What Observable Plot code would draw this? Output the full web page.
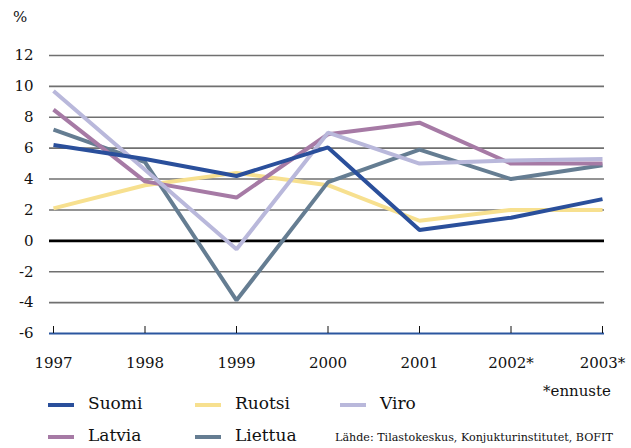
<!DOCTYPE html>
<html>
<head>
<meta charset="utf-8">
<script src="https://cdn.jsdelivr.net/npm/d3@7"></script>
<script src="https://cdn.jsdelivr.net/npm/@observablehq/plot@0.6"></script>
<style>
  html, body { margin: 0; padding: 0; background: #fff; }
  #wrap { position: relative; width: 631px; height: 448px; font-family: "DejaVu Serif", serif; color: #111; }
  #wrap svg { position: absolute; left: 0; top: 0; }
  .abs { position: absolute; white-space: nowrap; line-height: 1.15; }
  .sw { position: absolute; width: 26px; height: 4px; }
</style>
</head>
<body>
<div id="wrap"></div>
<script>
const years = [1997, 1998, 1999, 2000, 2001, 2002, 2003];
const yearLabels = ["1997", "1998", "1999", "2000", "2001", "2002*", "2003*"];
const yTicks = [-6, -4, -2, 0, 2, 4, 6, 8, 10, 12];
const seriesNames = ["Suomi", "Ruotsi", "Viro", "Latvia", "Liettua"];
const seriesColors = ["#2a4f9b", "#f7e08f", "#b9b8db", "#a67aa5", "#657d92"];
const suomi   = [6.2, 5.3, 4.2, 6.05, 0.7, 1.5, 2.7];
const ruotsi  = [2.1, 3.6, 4.4, 3.6, 1.3, 2.0, 2.0];
const viro    = [9.7, 4.6, -0.55, 7.0, 5.0, 5.2, 5.3];
const latvia  = [8.5, 3.85, 2.8, 6.9, 7.65, 5.0, 5.0];
const liettua = [7.2, 5.1, -3.85, 3.8, 5.9, 4.0, 4.9];
const unitLabel = "%";
const footnote = "*ennuste";
const source = "Lähde: Tilastokeskus, Konjukturinstitutet, BOFIT";

const valuesByName = {Suomi: suomi, Ruotsi: ruotsi, Viro: viro, Latvia: latvia, Liettua: liettua};
const color = Object.fromEntries(seriesNames.map((n, i) => [n, seriesColors[i]]));
const drawOrder = ["Ruotsi", "Liettua", "Latvia", "Viro", "Suomi"];
const rows = drawOrder.flatMap(name => years.map((yr, i) => ({name, year: yr, value: valuesByName[name][i]})));

const chart = Plot.plot({
  width: 631,
  height: 448,
  marginTop: 55,
  marginBottom: 115,
  marginLeft: 49,
  marginRight: 27,
  style: {fontFamily: "DejaVu Serif", fontSize: "15px", color: "#111", background: "transparent"},
  x: {domain: [1997, 2003], insetLeft: 4, insetRight: 2},
  y: {domain: [-6, 12]},
  marks: [
    Plot.ruleY(yTicks.filter(d => d !== 0 && d !== -6), {stroke: "#707070", strokeWidth: 1.6}),
    Plot.ruleY([0], {stroke: "#000", strokeWidth: 2.6}),
    Plot.ruleY([-6], {stroke: "#2b569f", strokeWidth: 2.2}),
    Plot.axisY({ticks: yTicks, tickSize: 0, tickPadding: 16, label: null, tickFormat: d => String(d)}),
    Plot.axisX({ticks: years, tickSize: -7, tickFormat: () => "", label: null, stroke: "#111"}),
    Plot.axisX({ticks: years, tickSize: 0, tickPadding: 24, label: null, tickFormat: d => yearLabels[years.indexOf(d)]}),
    Plot.line(rows, {x: "year", y: "value", z: "name", stroke: d => color[d.name], strokeWidth: 4, strokeLinejoin: "miter", strokeLinecap: "butt"})
  ]
});
const wrap = document.getElementById("wrap");
wrap.appendChild(chart);

function addText(txt, left, top, size) {
  const d = document.createElement("div");
  d.className = "abs";
  d.textContent = txt;
  d.style.left = left + "px";
  d.style.top = top + "px";
  d.style.fontSize = size + "px";
  wrap.appendChild(d);
  return d;
}
addText(unitLabel, 13, 9, 15);
addText(footnote, 543, 383, 15);
// source line: fit to the reference's width (about 280px)
const src = addText(source, 335, 432, 11);
const w = src.getBoundingClientRect().width;
if (w > 0) {
  const fs = Math.min(13, 11 * 278 / w);
  src.style.fontSize = fs.toFixed(2) + "px";
  src.style.top = (439 - fs * 0.6) + "px";
}

const legendPos = {Suomi: [48, 405], Ruotsi: [195, 405], Viro: [340, 405], Latvia: [48, 437], Liettua: [195, 437]};
for (const name of seriesNames) {
  const [x, y] = legendPos[name];
  const s = document.createElement("div");
  s.className = "sw";
  s.style.left = x + "px";
  s.style.top = (y - 2) + "px";
  s.style.background = color[name];
  wrap.appendChild(s);
  addText(name, x + 40, y - 11, 17);
}
</script>
</body>
</html>
